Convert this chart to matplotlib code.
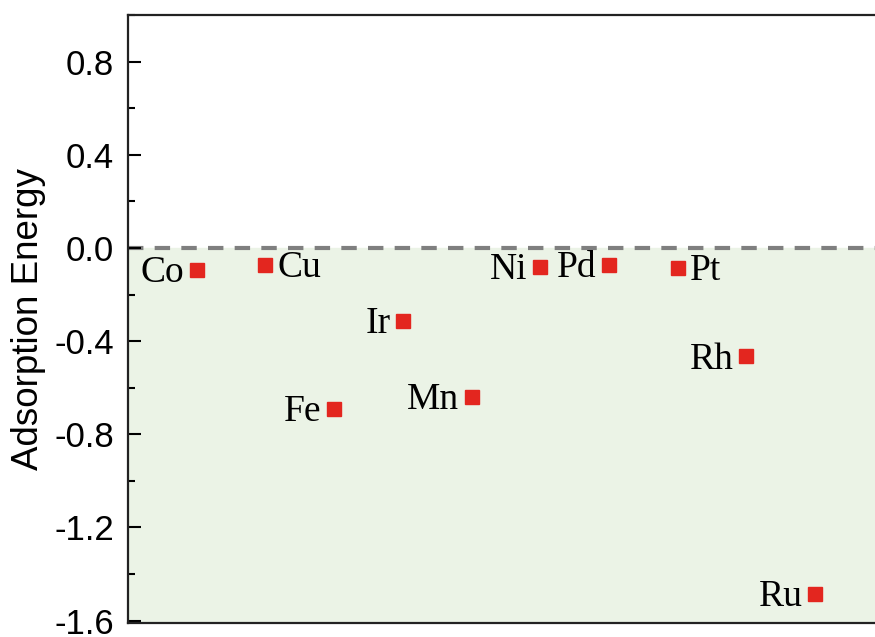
import matplotlib.pyplot as plt
from matplotlib.ticker import MultipleLocator

# metals and their adsorption energies
metals = ['Co', 'Cu', 'Fe', 'Ir', 'Mn', 'Ni', 'Pd', 'Pt', 'Rh', 'Ru']
energy = [-0.093, -0.072, -0.69, -0.315, -0.64, -0.08, -0.075, -0.085, -0.466, -1.486]
label_side = ['left', 'right', 'left', 'left', 'left', 'left', 'left', 'right', 'left', 'left']

xpos = list(range(1, len(metals) + 1))

fig = plt.figure(figsize=(8.75, 6.37), dpi=100)
# axes run past the right edge of the figure, like the cropped original
ax = fig.add_axes([0.1463, 0.022, 0.8637, 0.9545])

ax.set_xlim(0, 11)
ax.set_ylim(-1.61, 1.0)

# shaded negative region and the zero line
ax.axhspan(-1.61, 0, color='#EBF3E6', zorder=0)
ax.axhline(0, color='#7F7F7F', lw=3, dashes=(3.7, 2.7), zorder=1)

ax.plot(xpos, energy, 's', color='#E3261F', markersize=9.5, ls='none', zorder=3)

for x, y, name, side in zip(xpos, energy, metals, label_side):
    if side == 'left':
        off, ha = -9, 'right'
    else:
        off, ha = 9, 'left'
    ax.annotate(name, (x, y), xytext=(off, -2), textcoords='offset points',
                ha=ha, va='center', fontsize=27, family='Liberation Serif')

ax.yaxis.set_major_locator(MultipleLocator(0.4))
ax.yaxis.set_minor_locator(MultipleLocator(0.2))
ax.set_yticks([-1.6, -1.2, -0.8, -0.4, 0.0, 0.4, 0.8])
ax.set_yticklabels(['-1.6', '-1.2', '-0.8', '-0.4', '0.0', '0.4', '0.8'],
                   family='Liberation Sans', fontsize=25)
ax.tick_params(axis='y', which='major', direction='in', length=9, width=1.5, pad=10)
ax.tick_params(axis='y', which='minor', direction='in', length=5, width=1.5)
ax.set_xticks([])

for s in ax.spines.values():
    s.set_linewidth(1.6)
    s.set_color('#222222')

ax.set_ylabel('Adsorption Energy', family='Liberation Sans', fontsize=26.5, labelpad=6)

fig.savefig('out.png', dpi=100)
